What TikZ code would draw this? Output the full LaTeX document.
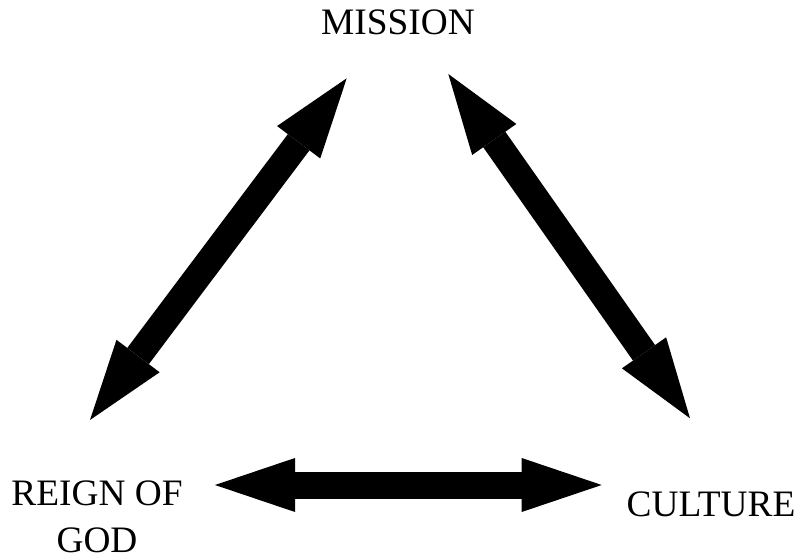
\documentclass[tikz,border=0pt]{standalone}
\usepackage{fontspec}
\setmainfont{Liberation Serif}
\usetikzlibrary{arrows.meta}

\tikzset{
  twoway/.style={line width=20.25pt,
    {Triangle[length=60pt,width=40.5pt,line width=0pt]}-{Triangle[length=60pt,width=40.5pt,line width=0pt]}},
  lbl/.style={font=\fontsize{28}{35.25}\selectfont, inner sep=0pt, align=center}
}

\begin{document}
\begin{tikzpicture}[x=0.75pt,y=-0.75pt]
  \useasboundingbox (0,0) rectangle (801,560);

  % Labels
  \node[lbl, anchor=base] (mission) at (398,34.3) {MISSION};
  \node[lbl] (reign) at (97,517) {REIGN OF\\GOD};
  \node[lbl, anchor=base] (culture) at (711,516.7) {CULTURE};

  % Arrow ends
  \coordinate (reign-up)   at (90,420);
  \coordinate (mission-l)  at (346.7,78.3);
  \coordinate (mission-r)  at (448.3,74);
  \coordinate (culture-up) at (690,418.3);
  \coordinate (reign-r)    at (215,485);
  \coordinate (culture-l)  at (601.7,485);

  % Double arrows
  \draw[twoway] (reign-up) -- (mission-l);
  \draw[twoway] (mission-r) -- (culture-up);
  \draw[twoway] (reign-r) -- (culture-l);

\end{tikzpicture}
\end{document}
